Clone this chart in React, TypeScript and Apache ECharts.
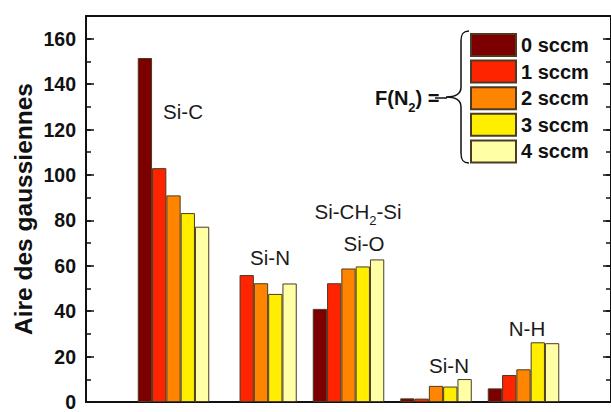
import React, { useEffect, useRef } from "react";
import * as echarts from "echarts";

const categories = ["", "Si-C", "Si-N", "Si-CH2-Si / Si-O", "Si-N ", "N-H", ""];
const seriesNames = ["0 sccm", "1 sccm", "2 sccm", "3 sccm", "4 sccm"];
const seriesColors = ["#7d0000", "#ff2400", "#ff8400", "#ffee00", "#ffffa6"];
const flow0 = [null, 151.5, null, 41.0, 1.6, 6.0, null];
const flow1 = [null, 103.0, 55.9, 52.3, 1.5, 11.9, null];
const flow2 = [null, 91.0, 52.3, 58.8, 7.1, 14.4, null];
const flow3 = [null, 83.2, 47.6, 59.7, 6.8, 26.3, null];
const flow4 = [null, 77.2, 52.2, 62.8, 10.1, 25.9, null];
const seriesValues = [flow0, flow1, flow2, flow3, flow4];
const yTicks = [0, 20, 40, 60, 80, 100, 120, 140, 160];

const FONT = "'Liberation Sans', Arial, Helvetica, sans-serif";

const bracePath =
  "M 23 0 C 17 0 15 3 15 10 L 15 56 C 15 63 10 66 0 66 C 10 66 15 69 15 76 L 15 122 C 15 129 17 132 23 132";

let registered = false;
function registerBrace() {
  if (registered) return;
  registered = true;
  echarts.graphic.registerShape("brace", echarts.graphic.extendPath(bracePath, {}) as any);
}

export default function App() {
  const ref = useRef<HTMLDivElement>(null);
  useEffect(() => {
    if (!ref.current) return;
    registerBrace();
    const chart = echarts.init(ref.current, null, { renderer: "svg" });
    const labelStyle = { fontFamily: FONT, fontSize: 20.5, fill: "#1a1a1a" };
    const option: any = {
      animation: false,
      backgroundColor: "#ffffff",
      grid: { left: 86, top: 16, right: -5, bottom: 2.5, containLabel: false },
      legend: {
        orient: "vertical",
        left: 470,
        top: 33,
        padding: 0,
        itemWidth: 45,
        itemHeight: 22,
        itemGap: 2.6,
        icon: "rect",
        data: seriesNames,
        textStyle: { fontFamily: FONT, fontSize: 20, fontWeight: "bold", color: "#111" },
      },
      xAxis: [
        {
          type: "category",
          data: categories,
          boundaryGap: false,
          position: "bottom",
          axisLine: { show: true, onZero: false, lineStyle: { color: "#111", width: 2 } },
          axisTick: { show: false },
          axisLabel: { show: false },
          splitLine: { show: false },
        },
        {
          type: "category",
          data: categories,
          boundaryGap: false,
          position: "top",
          axisLine: { show: true, onZero: false, lineStyle: { color: "#111", width: 2 } },
          axisTick: { show: false },
          axisLabel: { show: false },
          splitLine: { show: false },
        },
      ],
      yAxis: [
        {
          type: "value",
          min: 0,
          max: 170,
          interval: 20,
          position: "left",
          axisLine: { show: true, onZero: false, lineStyle: { color: "#111", width: 2 } },
          axisTick: { show: true, inside: true, length: 8, lineStyle: { color: "#111", width: 1.5 } },
          axisLabel: {
            show: true,
            margin: 10,
            fontFamily: FONT,
            fontSize: 19.5,
            fontWeight: "bold",
            color: "#111",
            showMaxLabel: false,
            formatter: (v: number) => (yTicks.indexOf(v) >= 0 ? String(v) : ""),
          },
          splitLine: { show: false },
        },
        {
          type: "value",
          min: 0,
          max: 170,
          interval: 10,
          position: "left",
          axisLine: { show: false },
          axisTick: { show: true, inside: true, length: 5, lineStyle: { color: "#111", width: 1.5 } },
          axisLabel: { show: false },
          splitLine: { show: false },
        },
        {
          type: "value",
          min: 0,
          max: 170,
          interval: 20,
          position: "right",
          axisLine: { show: true, onZero: false, lineStyle: { color: "#111", width: 2 } },
          axisTick: { show: true, inside: true, length: 8, lineStyle: { color: "#111", width: 1.5 } },
          axisLabel: { show: false },
          splitLine: { show: false },
        },
        {
          type: "value",
          min: 0,
          max: 170,
          interval: 10,
          position: "right",
          axisLine: { show: false },
          axisTick: { show: true, inside: true, length: 5, lineStyle: { color: "#111", width: 1.5 } },
          axisLabel: { show: false },
          splitLine: { show: false },
        },
      ],
      series: seriesNames.map((name, i) => ({
        name,
        type: "bar",
        xAxisIndex: 0,
        yAxisIndex: 0,
        data: seriesValues[i],
        barWidth: 14.3,
        barGap: "0%",
        itemStyle: { color: seriesColors[i], borderColor: "#4a3b22", borderWidth: 1 },
      })),
      graphic: [
        {
          type: "text",
          x: 23,
          y: 209,
          rotation: Math.PI / 2,
          style: {
            text: "Aire des gaussiennes",
            fontFamily: FONT,
            fontSize: 24.5,
            fontWeight: "bold",
            fill: "#111",
            align: "center",
            verticalAlign: "middle",
          },
        },
        { type: "text", x: 183, y: 111, style: { ...labelStyle, text: "Si-C", align: "center", verticalAlign: "middle" } },
        { type: "text", x: 270, y: 257, style: { ...labelStyle, text: "Si-N", align: "center", verticalAlign: "middle" } },
        {
          type: "text",
          x: 358,
          y: 211,
          style: {
            ...labelStyle,
            text: "{m|Si-CH}{s|2}{m|-Si}",
            align: "center",
            verticalAlign: "middle",
            rich: {
              m: { fontFamily: FONT, fontSize: 20.5, lineHeight: 32, color: "#1a1a1a" },
              s: { fontFamily: FONT, fontSize: 13, lineHeight: 12, verticalAlign: "bottom", color: "#1a1a1a" },
            },
          },
        },
        { type: "text", x: 364, y: 243, style: { ...labelStyle, text: "Si-O", align: "center", verticalAlign: "middle" } },
        { type: "text", x: 449, y: 365, style: { ...labelStyle, text: "Si-N", align: "center", verticalAlign: "middle" } },
        { type: "text", x: 527, y: 328, style: { ...labelStyle, text: "N-H", align: "center", verticalAlign: "middle" } },
        {
          type: "text",
          x: 375,
          y: 98,
          style: {
            text: "{m|F(N}{s|2}{m|) =}",
            fontFamily: FONT,
            fontSize: 20,
            fontWeight: "bold",
            fill: "#111",
            align: "left",
            verticalAlign: "middle",
            rich: {
              m: { fontFamily: FONT, fontSize: 20, fontWeight: "bold", lineHeight: 32, color: "#111" },
              s: { fontFamily: FONT, fontSize: 13, fontWeight: "bold", lineHeight: 12, verticalAlign: "bottom", color: "#111" },
            },
          },
        },
        { type: "line", shape: { x1: 435, y1: 98, x2: 447, y2: 98 }, style: { stroke: "#111", lineWidth: 1.5 } },
        { type: "brace", x: 446, y: 31, style: { stroke: "#111", lineWidth: 1.5, fill: null } },
      ],
    };
    chart.setOption(option);
    return () => chart.dispose();
  }, []);
  return (
    <div
      ref={ref}
      style={{ position: "fixed", left: 0, top: 0, width: 611, height: 412, background: "#fff" }}
    />
  );
}
